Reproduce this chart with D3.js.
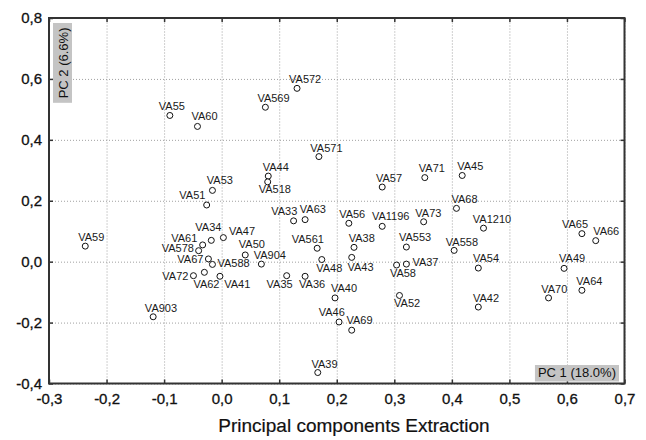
<!DOCTYPE html>
<html>
<head>
<meta charset="utf-8">
<script src="https://cdn.jsdelivr.net/npm/d3@7"></script>
<style>
  body { margin: 0; background: #fff; }
  svg { font-family: "Liberation Sans", Arial, sans-serif; }
</style>
</head>
<body>
<div id="wrapper"></div>
<script>
// variety names and their loadings on PC1 / PC2
const names = ["VA55", "VA60", "VA572", "VA569", "VA571", "VA71", "VA45", "VA68", "VA73", "VA1210",
    "VA553", "VA558", "VA37", "VA54", "VA65", "VA66", "VA49", "VA64", "VA70", "VA42",
    "VA52", "VA58", "VA53", "VA51", "VA59", "VA34", "VA47", "VA61", "VA578", "VA67",
    "VA588", "VA72", "VA62", "VA41", "VA44", "VA518", "VA57", "VA33", "VA63", "VA56",
    "VA1196", "VA561", "VA38", "VA50", "VA904", "VA48", "VA43", "VA35", "VA36", "VA40",
    "VA46", "VA69", "VA39", "VA903"]
const pc1 = [-0.090, -0.042, 0.131, 0.076, 0.169, 0.353, 0.418, 0.408, 0.351, 0.455,
    0.321, 0.404, 0.321, 0.446, 0.626, 0.650, 0.595, 0.626, 0.568, 0.446,
    0.309, 0.304, -0.016, -0.026, -0.237, -0.018, 0.003, -0.033, -0.040, -0.023,
    -0.016, -0.049, -0.030, -0.003, 0.081, 0.080, 0.279, 0.125, 0.145, 0.221,
    0.279, 0.166, 0.230, 0.041, 0.069, 0.174, 0.226, 0.113, 0.145, 0.197,
    0.204, 0.226, 0.167, -0.119]
const pc2 = [0.480, 0.444, 0.569, 0.507, 0.345, 0.276, 0.283, 0.175, 0.131, 0.110,
    0.048, 0.037, -0.008, -0.021, 0.092, 0.069, -0.022, -0.094, -0.119, -0.149,
    -0.111, -0.011, 0.234, 0.186, 0.051, 0.070, 0.079, 0.055, 0.036, 0.009,
    -0.009, -0.046, -0.035, -0.048, 0.281, 0.262, 0.245, 0.134, 0.138, 0.126,
    0.116, 0.044, 0.047, 0.022, -0.008, 0.007, 0.014, -0.046, -0.048, -0.119,
    -0.198, -0.225, -0.364, -0.181]
const xTicks = [-0.3, -0.2, -0.1, 0.0, 0.1, 0.2, 0.3, 0.4, 0.5, 0.6, 0.7]
const yTicks = [-0.4, -0.2, 0.0, 0.2, 0.4, 0.6, 0.8]
const xLabel = "PC 1 (18.0%)"
const yLabel = "PC 2 (6.6%)"
const title = "Principal components Extraction"

// label placement next to each point (pixels), default is above-left
const labelOffset = {
    VA55: [-11, -5], VA60: [-6, -6], VA572: [-8, -5.6], VA569: [-8, -5], VA571: [-8.6, -4.4],
    VA71: [-6, -5.4], VA45: [-5, -5.7], VA68: [-5, -5], VA73: [-8.3, -4.3], VA1210: [-10.7, -5],
    VA553: [-7.4, -6], VA558: [-8.3, -4.7], VA37: [6, 2], VA54: [-5.4, -6], VA65: [-20, -5.3],
    VA66: [-2.6, -5.7], VA49: [-5, -6.4], VA64: [-5.6, -5.7], VA70: [-7.3, -5], VA42: [-5.4, -5],
    VA52: [-5.4, 11.3], VA58: [-6.7, 12.4], VA53: [-5.6, -6.4], VA51: [-1.3, -6, "end"],
    VA59: [-7, -5.3], VA34: [-16, -9], VA47: [5.6, -3], VA61: [-5.4, -3, "end"],
    VA578: [-4.7, 1.7, "end"], VA67: [-5, 4, "end"], VA588: [5, 2.6], VA72: [-5, 4, "end"],
    VA62: [-11, 15.6], VA41: [4.3, 11.6], VA44: [-5.6, -4.6], VA518: [-9, 11.3],
    VA57: [-6.3, -5], VA33: [3.7, -6, "end"], VA63: [-5.3, -6.7], VA56: [-9.7, -5.4],
    VA1196: [-10.3, -6.7], VA561: [6.7, -5.4, "end"], VA38: [-5.3, -5], VA50: [-6.4, -7],
    VA904: [-7.7, -5.5], VA48: [-5.6, 12.3], VA43: [-4.3, 13.3], VA35: [6, 12.7, "end"],
    VA36: [-6, 12], VA40: [-4, -6], VA46: [5.7, -6.3, "end"], VA69: [-5.3, -5.7],
    VA39: [-6.3, -4.7], VA903: [-8.3, -4.6]
}

const data = names.map((n, i) => ({ name: n, x: pc1[i], y: pc2[i] }))

let dimensions = {
    width: 646,
    height: 440,
    margin: { top: 18, right: 21.5, bottom: 56.5, left: 49 }
}
dimensions.boundedWidth = dimensions.width - dimensions.margin.left - dimensions.margin.right
dimensions.boundedHeight = dimensions.height - dimensions.margin.top - dimensions.margin.bottom

const svg = d3.select("#wrapper")
    .append("svg")
    .attr("width", dimensions.width)
    .attr("height", dimensions.height)
const bounds = svg.append("g")
    .attr("transform", `translate(${dimensions.margin.left},${dimensions.margin.top})`)

const xScale = d3.scaleLinear().domain([-0.3, 0.7]).range([0, dimensions.boundedWidth])
const yScale = d3.scaleLinear().domain([-0.4, 0.8]).range([dimensions.boundedHeight, 0])
const fmt = v => (Math.abs(v) < 1e-9 ? 0 : v).toFixed(1).replace(".", ",")

//* dotted grid
bounds.append("g")
    .attr("transform", `translate(0,${dimensions.boundedHeight})`)
    .call(d3.axisBottom(xScale).tickValues(xTicks).tickSize(-dimensions.boundedHeight).tickFormat(""))
    .call(g => g.select(".domain").remove())
    .selectAll("line")
    .attr("stroke", "#a0a0a0").attr("stroke-dasharray", "1,2")
bounds.append("g")
    .call(d3.axisLeft(yScale).tickValues(yTicks).tickSize(-dimensions.boundedWidth).tickFormat(""))
    .call(g => g.select(".domain").remove())
    .selectAll("line")
    .attr("stroke", "#a0a0a0").attr("stroke-dasharray", "1,2")

//* axes with inward ticks
const xAxis = bounds.append("g")
    .attr("transform", `translate(0,${dimensions.boundedHeight})`)
    .call(d3.axisBottom(xScale).tickValues(xTicks).tickSize(-4).tickPadding(10).tickFormat(fmt))
const yAxis = bounds.append("g")
    .call(d3.axisLeft(yScale).tickValues(yTicks).tickSize(-4).tickPadding(7).tickFormat(fmt))
const topAxis = bounds.append("g")
    .call(d3.axisTop(xScale).tickValues(xTicks).tickSize(-4).tickFormat(""))
const rightAxis = bounds.append("g")
    .attr("transform", `translate(${dimensions.boundedWidth},0)`)
    .call(d3.axisRight(yScale).tickValues(yTicks).tickSize(-4).tickFormat(""))
;[xAxis, yAxis, topAxis, rightAxis].forEach(a => {
    a.select(".domain").remove()
    a.selectAll("line").attr("stroke", "#333").attr("stroke-width", 1.5)
    a.selectAll("text").attr("font-size", 15).attr("fill", "#111")
        .attr("stroke", "#111").attr("stroke-width", 0.3)
        .attr("font-family", "'Liberation Sans', Arial, sans-serif")
})

bounds.append("rect")
    .attr("width", dimensions.boundedWidth)
    .attr("height", dimensions.boundedHeight)
    .attr("fill", "none")
    .attr("stroke", "#333")
    .attr("stroke-width", 2)

//* points and labels
bounds.selectAll(".pt")
    .data(data)
    .join("circle")
    .attr("class", "pt")
    .attr("cx", d => xScale(d.x))
    .attr("cy", d => yScale(d.y))
    .attr("r", 3)
    .attr("fill", "white")
    .attr("stroke", "#111")
    .attr("stroke-width", 1)

bounds.selectAll(".lbl")
    .data(data)
    .join("text")
    .attr("class", "lbl")
    .attr("x", d => xScale(d.x) + labelOffset[d.name][0])
    .attr("y", d => yScale(d.y) + labelOffset[d.name][1])
    .attr("text-anchor", d => labelOffset[d.name][2] || "start")
    .attr("font-size", 11)
    .attr("fill", "#1a1a1a")
    .text(d => d.name)

//* axis name boxes
const pc1Box = bounds.append("g")
    .attr("transform", `translate(${dimensions.boundedWidth - 5.5},${dimensions.boundedHeight - 2})`)
const pc1Text = pc1Box.append("text")
    .attr("text-anchor", "end")
    .attr("x", -3)
    .attr("y", -4.5)
    .attr("font-size", 13)
    .attr("fill", "#111")
    .text(xLabel)
const b1 = pc1Text.node().getBBox()
pc1Box.insert("rect", "text")
    .attr("x", b1.x - 3).attr("y", -16.5)
    .attr("width", b1.width + 6).attr("height", 16.5)
    .attr("fill", "#c4c4c4")

const pc2Box = bounds.append("g")
    .attr("transform", "translate(4,5)")
const pc2Text = pc2Box.append("text")
    .attr("transform", "rotate(-90)")
    .attr("text-anchor", "end")
    .attr("x", -4.5)
    .attr("y", 14.5)
    .attr("font-size", 13)
    .attr("fill", "#111")
    .text(yLabel)
const b2 = pc2Text.node().getBBox()
pc2Box.insert("rect", "text")
    .attr("x", 0).attr("y", 0)
    .attr("width", 19).attr("height", b2.width + 9)
    .attr("fill", "#c4c4c4")

svg.append("text")
    .attr("x", 354)
    .attr("y", 432)
    .attr("text-anchor", "middle")
    .attr("font-size", 19)
    .attr("fill", "#111")
    .attr("stroke", "#111")
    .attr("stroke-width", 0.2)
    .text(title)
</script>
</body>
</html>
